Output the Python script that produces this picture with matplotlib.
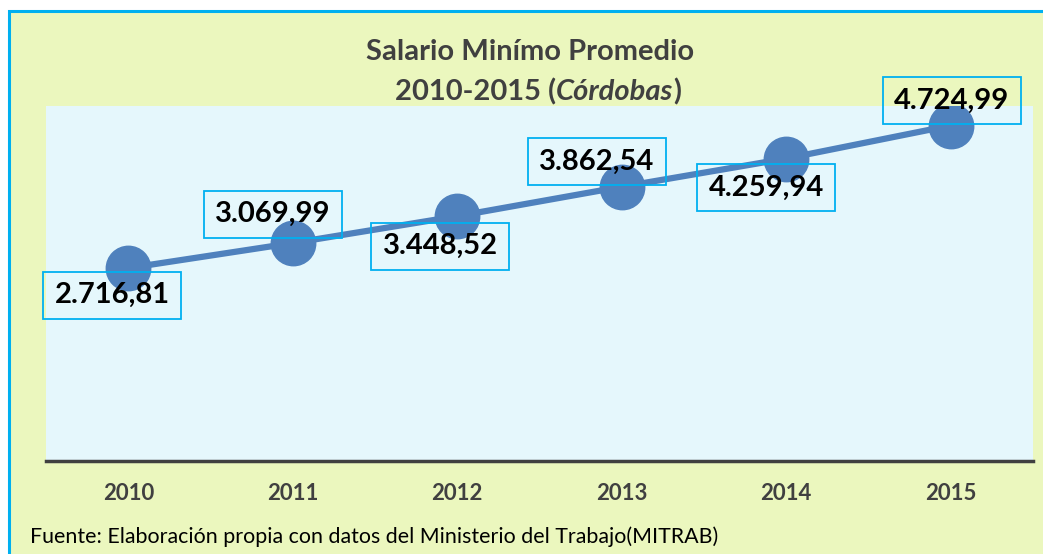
import matplotlib
matplotlib.use("Agg")
import matplotlib.pyplot as plt
from matplotlib.patches import Rectangle

years = ["2010", "2011", "2012", "2013", "2014", "2015"]
salario = [2716.81, 3069.99, 3448.52, 3862.54, 4259.94, 4724.99]
labels = ["2.716,81", "3.069,99", "3.448,52", "3.862,54", "4.259,94", "4.724,99"]
# label offsets in pixels (dx, dy) relative to the point
offsets = [(-16, -27), (-20, 29), (-17, -30), (-25, 25), (-20, -29), (1, 25)]

FONT = "Lato"
W, H = 1043, 554
fig = plt.figure(figsize=(W / 100, H / 100), dpi=100)
fig.patch.set_facecolor("white")

# outer chart area with border
outer = Rectangle((9 / W, -0.01), 1 - 9 / W + 0.01, 1 - 11 / H + 0.01, transform=fig.transFigure,
                  facecolor="#EBF7BE", edgecolor="#00B0F0", linewidth=2.2, zorder=-5)
fig.patches.append(outer)

ax = fig.add_axes([46 / W, (H - 461) / H, (1033 - 46) / W, (461 - 106) / H])
ax.set_zorder(1)
ax.set_facecolor("#E5F7FC")
x = list(range(len(years)))
ax.plot(x, salario, color="#4F81BD", linewidth=4.5, marker="o", markersize=32,
        markerfacecolor="#4F81BD", markeredgecolor="#4F81BD", zorder=3, solid_capstyle="round")
ax.set_xlim(-0.5, len(years) - 0.5)
ax.set_ylim(0, 5000)
ax.set_xticks(x)
ax.set_xticklabels(years, fontfamily=FONT, fontweight="bold", fontsize=16, color="#404040")
ax.tick_params(axis="x", length=0, pad=16)
ax.set_yticks([])
for s in ["top", "right", "left"]:
    ax.spines[s].set_visible(False)
ax.spines["bottom"].set_color("#404040")
ax.spines["bottom"].set_linewidth(2.5)

anns = []
for xi, yi, lab, (dx, dy) in zip(x, salario, labels, offsets):
    a = ax.annotate(lab, (xi, yi), xytext=(dx * 0.72, dy * 0.72), textcoords="offset points",
                    ha="center", va="center", fontfamily=FONT, fontweight="bold", fontsize=21,
                    color="black", zorder=5, annotation_clip=False)
    anns.append(a)

# title
fig.text(530 / W, 1 - 52 / H, "Salario Minímo Promedio", ha="center", va="center",
         fontfamily=FONT, fontweight="bold", fontsize=21, color="#404040", zorder=6)
parts = [("2010-2015 (", "normal"), ("Córdobas", "italic"), (")", "normal")]
texts = []
for s, st in parts:
    t = fig.text(0, 1 - 92 / H, s, ha="left", va="center", fontfamily=FONT, fontweight="bold",
                 fontstyle=st, fontsize=21, color="#404040", zorder=6)
    texts.append(t)
fig.canvas.draw()
r = fig.canvas.get_renderer()
widths = [t.get_window_extent(r).width for t in texts]
total = sum(widths)
start = 538 - total / 2
for t, w in zip(texts, widths):
    t.set_x(start / W)
    start += w

# label boxes (fixed size, centered on each label)
BW, BH = 138, 47
for a in anns:
    bb = a.get_window_extent(r)
    cx, cy = (bb.x0 + bb.x1) / 2, (bb.y0 + bb.y1) / 2
    rect = Rectangle((cx - BW / 2, cy - BH / 2), BW, BH, transform=None, facecolor="none",
                     edgecolor="#00B0F0", linewidth=1.3, zorder=10)
    fig.patches.append(rect)

fig.text(30 / W, 1 - 537 / H, "Fuente: Elaboración propia con datos del Ministerio del Trabajo(MITRAB)",
         ha="left", va="center", fontfamily=FONT, fontsize=15.4, color="black", zorder=6)

fig.savefig("out.png", dpi=100)
